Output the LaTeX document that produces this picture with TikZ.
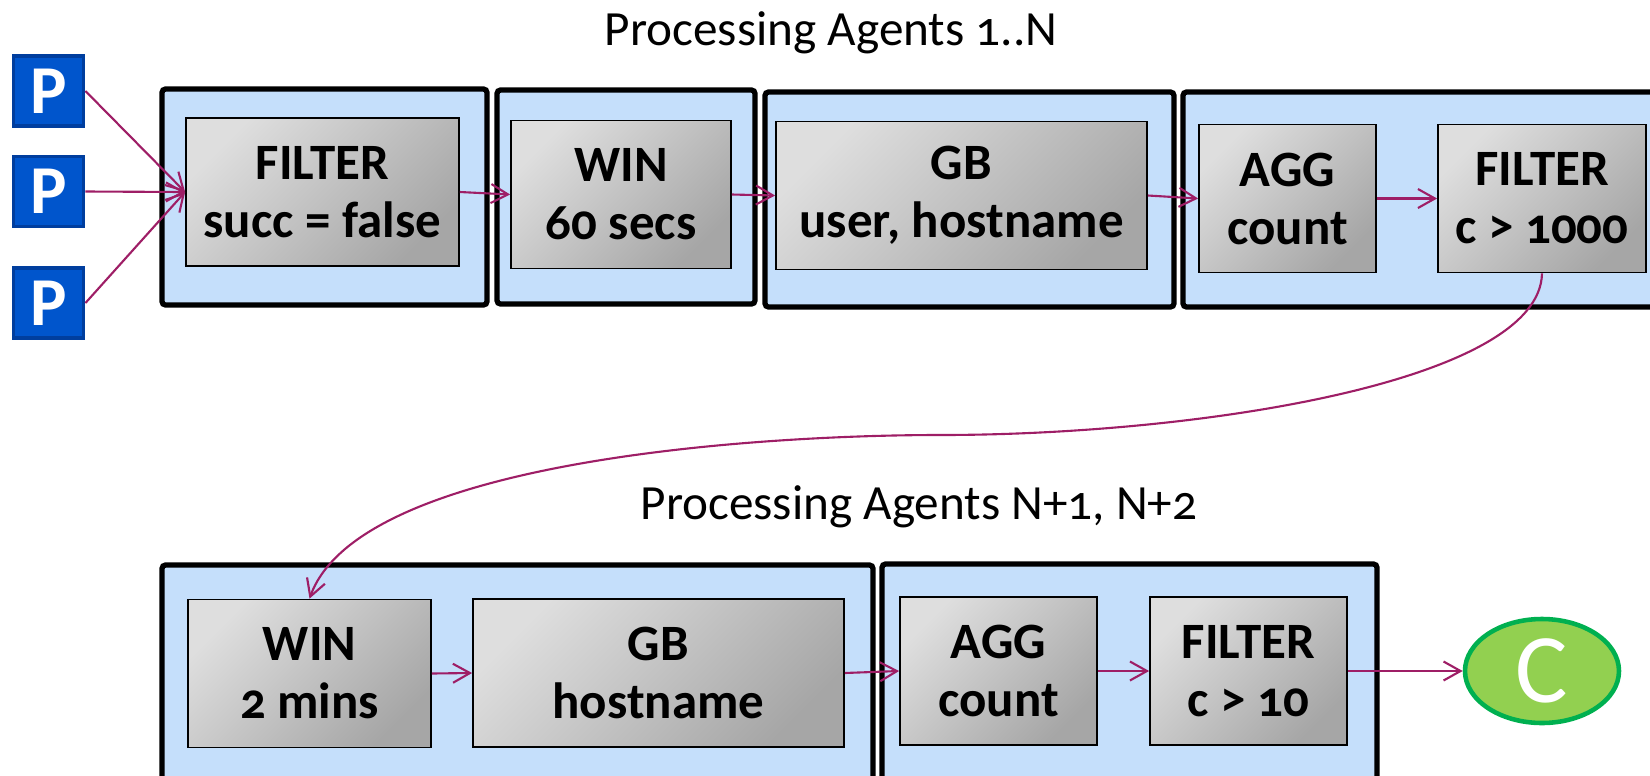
\documentclass[tikz,border=0pt]{standalone}
\usepackage{fontspec}
\setmainfont{Carlito}[Numbers=OldStyle]
\usetikzlibrary{arrows.meta, shapes.geometric}
\definecolor{agentblue}{RGB}{197,223,251}
\definecolor{oplight}{RGB}{222,222,222}
\definecolor{opdark}{RGB}{166,166,166}
\definecolor{flowred}{RGB}{158,30,102}
\definecolor{prodblue}{RGB}{0,85,204}
\definecolor{prodedge}{RGB}{0,62,158}
\definecolor{consgreen}{RGB}{146,208,80}
\definecolor{consedge}{RGB}{0,176,80}

\begin{document}
\begin{tikzpicture}[
  agent/.style={rectangle, draw=black, line width=1.5pt, fill=agentblue, rounded corners=1pt},
  op/.style={rectangle, draw=black, line width=0.5pt, top color=oplight, bottom color=opdark, shading angle=45, font=\fontsize{14.5}{16.5}\selectfont\bfseries, align=center, inner sep=0pt, minimum height=1.48cm},
  prod/.style={rectangle, draw=prodedge, line width=1.1pt, fill=prodblue, minimum size=0.70cm, inner sep=0pt, font=\fontsize{19.5}{19.5}\selectfont\bfseries, text=white},
  flow/.style={draw=flowred, line width=0.6pt, -{Straight Barb[length=1.7mm, width=1.9mm]}},
  title/.style={font=\fontsize{14}{16}\selectfont}
]
\useasboundingbox (0,0) rectangle (16.5,-7.76);
\clip (0,0) rectangle (16.5,-7.76);

% Titles
\node[title] (titleA) at (8.31,-0.33) {Processing Agents 1..N};
\node[title] (titleB) at (9.19,-5.07) {Processing Agents N+1, N+2};

% Producers
\node[prod] (prodA) at (0.485,-0.91) {\raisebox{-0.5mm}{P}};
\node[prod] (prodB) at (0.485,-1.915) {\raisebox{-0.5mm}{P}};
\node[prod] (prodC) at (0.485,-3.03) {\raisebox{-0.5mm}{P}};

% Processing agents (outer boxes)
\node[agent, minimum width=3.25cm, minimum height=2.16cm] (agentA) at (3.245,-1.97) {};
\node[agent, minimum width=2.58cm, minimum height=2.14cm] (agentB) at (6.26,-1.97) {};
\node[agent, minimum width=4.09cm, minimum height=2.15cm] (agentC) at (9.695,-1.995) {};
\node[agent, minimum width=4.87cm, minimum height=2.15cm] (agentD) at (14.265,-1.995) {};
\node[agent, minimum width=7.11cm, minimum height=2.25cm] (agentE) at (5.175,-6.775) {};
\node[agent, minimum width=4.95cm, minimum height=2.26cm] (agentF) at (11.295,-6.77) {};

% Operators
\node[op, minimum width=2.73cm] (filterA) at (3.225,-1.92) {FILTER\\succ = false};
\node[op, minimum width=2.20cm] (winA) at (6.21,-1.945) {WIN\\60 secs};
\node[op, minimum width=3.71cm] (gbA) at (9.615,-1.955) {GB\\user, hostname};
\node[op, minimum width=1.77cm] (aggA) at (12.875,-1.985) {AGG\\count};
\node[op, minimum width=2.08cm] (filterB) at (15.42,-1.985) {FILTER\\c > 1000};
\node[op, minimum width=2.43cm] (winB) at (3.095,-6.735) {WIN\\2 mins};
\node[op, minimum width=3.71cm] (gbB) at (6.585,-6.73) {GB\\hostname};
\node[op, minimum width=1.97cm] (aggB) at (9.985,-6.71) {AGG\\count};
\node[op, minimum width=1.97cm] (filterC) at (12.485,-6.71) {FILTER\\c > 10};

% Consumer
\node[ellipse, draw=consedge, line width=1.3pt, fill=consgreen, minimum width=1.54cm, minimum height=1.04cm, inner sep=0pt, text=white, font=\fontsize{28}{28}\selectfont] (cons) at (15.42,-6.71) {C};

% Flows
\draw[flow] (prodA.east) -- (filterA.west);
\draw[flow] (prodB.east) -- (filterA.west);
\draw[flow] (prodC.east) -- (filterA.west);
\draw[flow] (filterA.east) -- (winA.west);
\draw[flow] (winA.east) -- (gbA.west);
\draw[flow] (gbA.east) -- (aggA.west);
\draw[flow] (aggA.east) -- (filterB.west);
\coordinate (bendA) at (9.40,-4.35);
\draw[flow] (filterB.south) .. controls +(-0.02,-1.08) and +(2.6,0) .. (bendA) .. controls +(-1.8,0) and +(0.5,1.39) .. (winB.north);
\draw[flow] (winB.east) -- (gbB.west);
\draw[flow] (gbB.east) -- (aggB.west);
\draw[flow] (aggB.east) -- (filterC.west);
\draw[flow] (filterC.east) -- (cons.west);
\end{tikzpicture}
\end{document}
